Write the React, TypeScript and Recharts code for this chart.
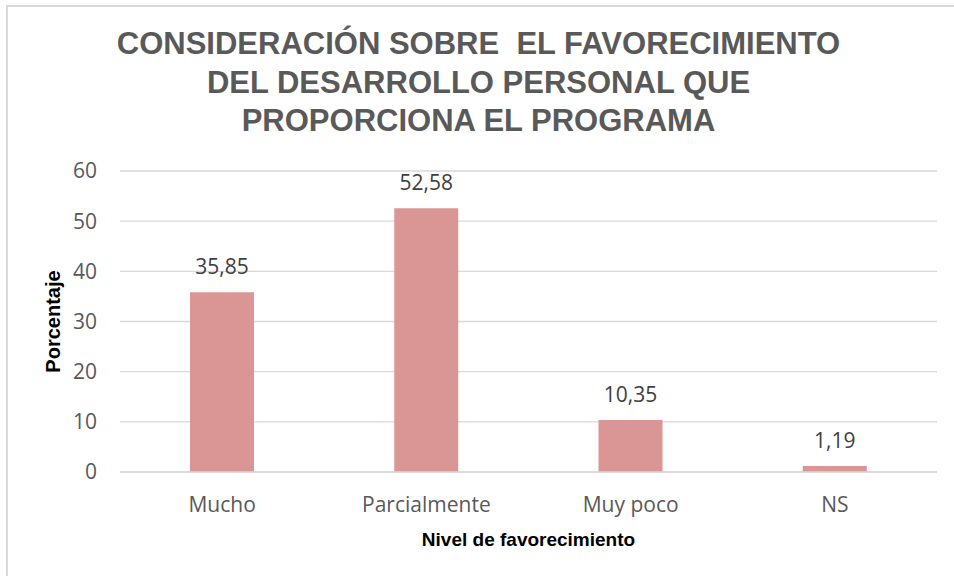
import { Bar, BarChart, CartesianGrid, LabelList, XAxis, YAxis } from "recharts";

// valores
const categorias = ["Mucho", "Parcialmente", "Muy poco", "NS"];
const porcentajes = [35.85, 52.58, 10.35, 1.19];
const ticksY = [0, 10, 20, 30, 40, 50, 60];

const titulo = [
  "CONSIDERACIÓN SOBRE  EL FAVORECIMIENTO",
  "DEL DESARROLLO PERSONAL QUE",
  "PROPORCIONA EL PROGRAMA",
];

const data = categorias.map((c, i) => ({ nivel: c, valor: porcentajes[i] }));

const fmt = (v: unknown) => Number(v).toFixed(2).replace(".", ",");

export default function App() {
  return (
    <div
      style={{
        position: "fixed",
        left: 0,
        top: 0,
        width: 954,
        height: 576,
        overflow: "hidden",
        background: "#fff",
      }}
    >
      <div
        style={{
          position: "absolute",
          left: 6,
          top: 5,
          width: 1000,
          height: 700,
          border: "2px solid #d9d9d9",
        }}
      />
      <div
        style={{
          position: "absolute",
          left: 0,
          top: 25,
          width: 957,
          textAlign: "center",
          fontFamily: "'Liberation Sans', Arial, sans-serif",
          fontWeight: "bold",
          fontSize: 31,
          lineHeight: "38.5px",
          color: "#595959",
          whiteSpace: "pre",
        }}
      >
        {titulo.map((t) => (
          <div key={t}>{t}</div>
        ))}
      </div>
      <div style={{ position: "absolute", left: 0, top: 0 }}>
        <BarChart
          width={954}
          height={576}
          data={data}
          margin={{ top: 171, right: 17, left: 60, bottom: 74 }}
          barSize={64}
        >
          <CartesianGrid vertical={false} stroke="#d9d9d9" strokeWidth={1.3} />
          <XAxis
            dataKey="nivel"
            height={30}
            axisLine={{ stroke: "#d9d9d9", strokeWidth: 1.3 }}
            tickLine={false}
            tickSize={0}
            tickMargin={25}
            tick={{ fill: "#595959", fontSize: 21, fontFamily: "'Open Sans', sans-serif" }}
            label={{
              value: "Nivel de favorecimiento",
              position: "bottom",
              offset: 31,
              fill: "#000",
              fontSize: 19,
              fontWeight: "bold",
              fontFamily: "'Liberation Sans', Arial, sans-serif",
            }}
          />
          <YAxis
            width={60}
            domain={[0, 60]}
            ticks={ticksY}
            axisLine={false}
            tickLine={false}
            tickSize={0}
            tickMargin={23}
            tick={{ fill: "#595959", fontSize: 21, fontFamily: "'Open Sans', sans-serif" }}
            label={{
              value: "Porcentaje",
              angle: -90,
              position: "insideLeft",
              offset: -7,
              style: { textAnchor: "middle" },
              fill: "#000",
              fontSize: 20,
              fontWeight: "bold",
              fontFamily: "'Liberation Sans', Arial, sans-serif",
            }}
          />
          <Bar dataKey="valor" fill="#d99694" isAnimationActive={false}>
            <LabelList
              dataKey="valor"
              position="top"
              offset={18}
              formatter={fmt}
              fill="#404040"
              fontSize={21}
              fontFamily="'Open Sans', sans-serif"
            />
          </Bar>
        </BarChart>
      </div>
    </div>
  );
}
